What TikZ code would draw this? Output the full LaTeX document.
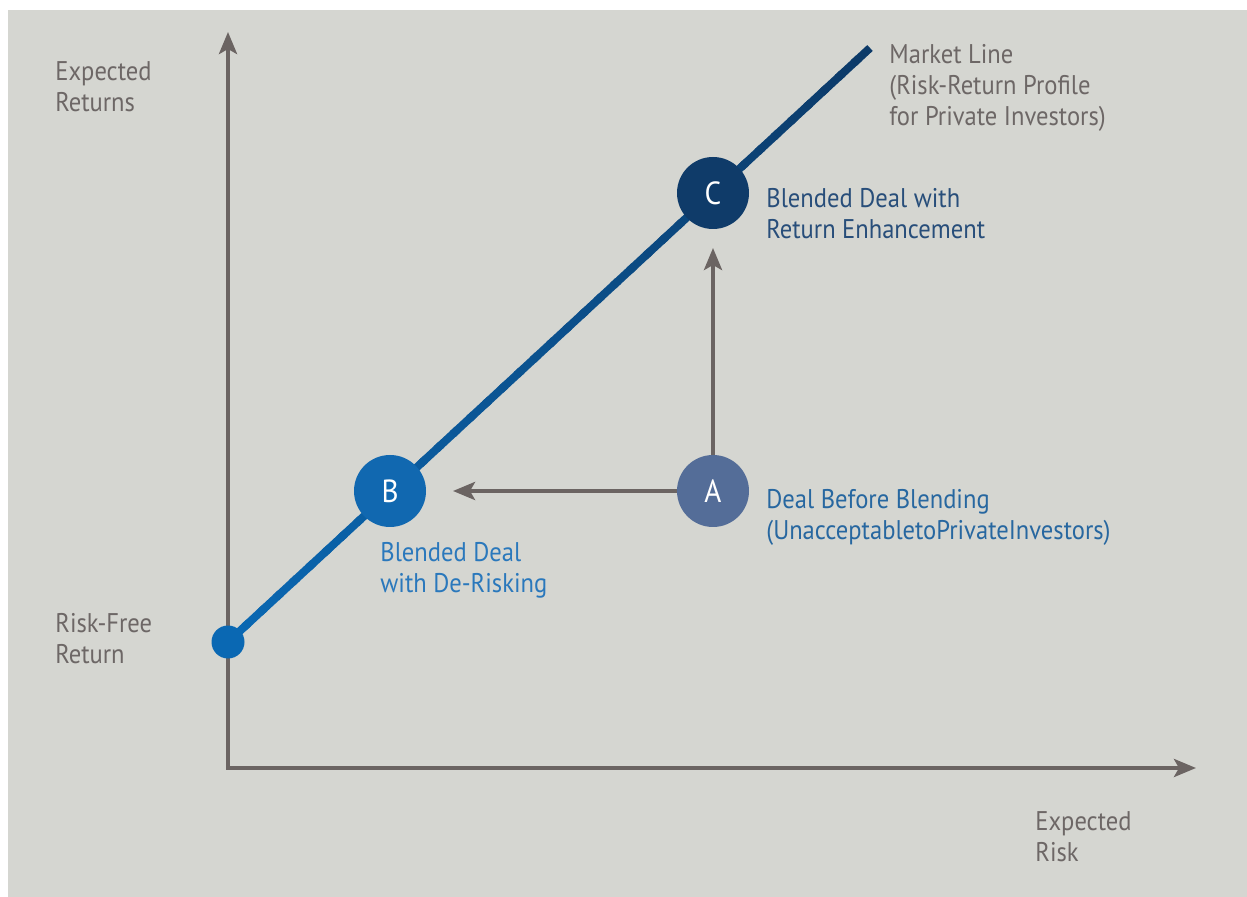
\documentclass[tikz,border=0pt]{standalone}
\usepackage{fontspec}
\setmainfont{PT Sans}[FakeStretch=0.91]
\usetikzlibrary{arrows.meta,calc}
\definecolor{bg}{HTML}{D5D6D1}
\definecolor{axisgray}{HTML}{6B6462}
\definecolor{txtgray}{HTML}{6D6766}
\definecolor{lineStart}{HTML}{0A68B3}
\definecolor{lineEnd}{HTML}{0C3A68}
\definecolor{Bfill}{HTML}{1168B0}
\definecolor{Afill}{HTML}{546D98}
\definecolor{Cfill}{HTML}{0F3B69}
\definecolor{Ctext}{HTML}{284E7A}
\definecolor{Atext}{HTML}{2767A0}
\definecolor{Btext}{HTML}{2A78BC}
\tikzset{
  axisline/.style={draw=axisgray, line width=2pt, line join=miter,
    arrows={Stealth[length=11pt,width=9pt,inset=2.5pt]-Stealth[length=11pt,width=9pt,inset=2.5pt]}},
  moveline/.style={draw=axisgray, line width=2pt,
    -{Stealth[length=11pt,width=9pt,inset=2.5pt]}},
  dealcircle/.style={circle, minimum size=36pt, inner sep=0pt, text=white,
    font=\fontsize{16}{18}\selectfont},
  lbl/.style={anchor=base west, inner sep=0pt, align=left,
    font=\fontsize{13.5}{15.5}\selectfont},
}
\begin{document}
\begin{tikzpicture}[x=0.5pt,y=-0.5pt]
\useasboundingbox (0,0) rectangle (1247,897);
\fill[bg] (8,10) rectangle (1247,897);
% axes
\coordinate (ytip) at (228,32);
\coordinate (origin) at (228,768);
\coordinate (xtip) at (1196,768);
\draw[axisline] (ytip) -- (origin) -- (xtip);
% market line with gradient
\coordinate (rfpt) at (228,642);
\coordinate (mend) at (870,48);
\foreach \i in {0,...,39}{
  \pgfmathsetmacro{\a}{\i/40}
  \pgfmathsetmacro{\b}{min(1,(\i+1.3)/40)}
  \pgfmathsetmacro{\p}{100-\i*100/39}
  \draw[line width=4pt, color=lineStart!\p!lineEnd] ($(rfpt)!\a!(mend)$) -- ($(rfpt)!\b!(mend)$);
}
\node[circle, fill=lineStart, minimum size=16.5pt, inner sep=0pt] (rf) at (rfpt) {};
% deal circles
\node[dealcircle, fill=Bfill] (B) at (390,491) {B};
\node[dealcircle, fill=Afill] (A) at (713,491) {A};
\node[dealcircle, fill=Cfill] (C) at (713,193) {C};
\coordinate (Btip) at (453,491);
\coordinate (Ctip) at (713,248);
\draw[moveline] (A.west) -- (Btip);
\draw[moveline] (A.north) -- (Ctip);
% labels (anchor = baseline of last line)
\node[lbl, text=txtgray] (yl) at (55,112) {Expected\\Returns};
\node[lbl, text=txtgray] (rfl) at (55,663) {Risk-Free\\Return};
\node[lbl, text=txtgray] (xl) at (1035,861) {Expected\\Risk};
\node[lbl, text=txtgray] (ml) at (889,126) {Market Line\\(Risk-Return Profile\\for Private Investors)};
\node[lbl, text=Ctext] (cl) at (766,239) {Blended Deal with\\Return Enhancement};
\node[lbl, text=Atext] (al) at (766,539) {Deal Before Blending\\(UnacceptabletoPrivateInvestors)};
\node[lbl, text=Btext] (bl) at (380,592) {Blended Deal\\with De-Risking};
\end{tikzpicture}
\end{document}
